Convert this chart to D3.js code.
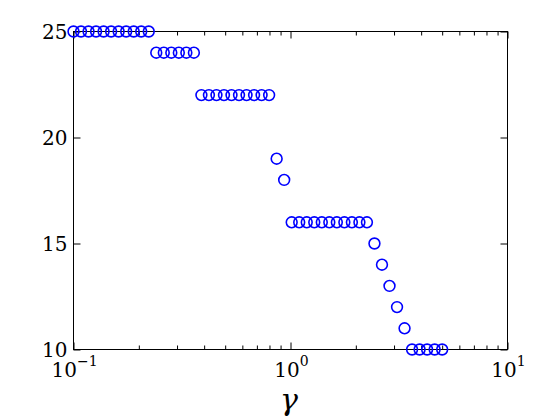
<!DOCTYPE html>
<html>
<head>
<meta charset="utf-8">
<script src="https://cdn.jsdelivr.net/npm/d3@7"></script>
<style>
  html, body { margin: 0; padding: 0; background: #fff; }
  svg { display: block; }
</style>
</head>
<body>
<svg id="chart" width="560" height="420"></svg>
<script>
// gamma values (log-spaced)
const gammaValues = [
  0.1, 0.10831, 0.11731, 0.12706, 0.13762, 0.14906, 0.16145, 0.17487, 0.18940, 0.20514,
  0.22219, 0.24066, 0.26066, 0.28232, 0.30578, 0.33120, 0.35872, 0.38854, 0.42083, 0.45580,
  0.49368, 0.53471, 0.57915, 0.62729, 0.67942, 0.73589, 0.79705, 0.86329, 0.93503, 1.0127,
  1.0969, 1.1881, 1.2868, 1.3938, 1.5096, 1.6351, 1.7709, 1.9181, 2.0775, 2.2502,
  2.4372, 2.6398, 2.8592, 3.0968, 3.3542, 3.6329, 3.9348, 4.2619, 4.6161, 5.0
];
const countValues = [
  25, 25, 25, 25, 25, 25, 25, 25, 25, 25,
  25, 24, 24, 24, 24, 24, 24, 22, 22, 22,
  22, 22, 22, 22, 22, 22, 22, 19, 18, 16,
  16, 16, 16, 16, 16, 16, 16, 16, 16, 16,
  15, 14, 13, 12, 11, 10, 10, 10, 10, 10
];
const xMajorTicks = [0.1, 1, 10];
const xMajorExponents = ["\u22121", "0", "1"];
const xMinorTicks = [0.2,0.3,0.4,0.5,0.6,0.7,0.8,0.9,2,3,4,5,6,7,8,9];
const yTicks = [10, 15, 20, 25];
const yTickLabels = ["10", "15", "20", "25"];
const xLabel = "\u03B3";

const FONT = "DejaVu Serif";

const svg = d3.select("#chart");
const L = 73.5, R = 507.5, T = 31.5, B = 349.5;
const x = d3.scaleLog().domain([0.1, 10]).range([L, R]);
const y = d3.scaleLinear().domain([10, 25]).range([B, T]);

const majorLen = 7, minorLen = 4;

function styleAxis(g) {
  g.select(".domain").remove();
  g.selectAll("line").attr("stroke", "#000").attr("stroke-width", 1);
  g.selectAll("text").remove();
}

// bottom ticks (inward)
svg.append("g").attr("transform", `translate(0,${B})`)
  .call(d3.axisBottom(x).tickValues(xMajorTicks).tickSize(-majorLen).tickSizeOuter(0)).call(styleAxis);
svg.append("g").attr("transform", `translate(0,${B})`)
  .call(d3.axisBottom(x).tickValues(xMinorTicks).tickSize(-minorLen).tickSizeOuter(0)).call(styleAxis);
// top ticks
svg.append("g").attr("transform", `translate(0,${T})`)
  .call(d3.axisTop(x).tickValues(xMajorTicks).tickSize(-majorLen).tickSizeOuter(0)).call(styleAxis);
svg.append("g").attr("transform", `translate(0,${T})`)
  .call(d3.axisTop(x).tickValues(xMinorTicks).tickSize(-minorLen).tickSizeOuter(0)).call(styleAxis);
// left ticks
svg.append("g").attr("transform", `translate(${L},0)`)
  .call(d3.axisLeft(y).tickValues(yTicks).tickSize(-majorLen).tickSizeOuter(0)).call(styleAxis);
// right ticks
svg.append("g").attr("transform", `translate(${R},0)`)
  .call(d3.axisRight(y).tickValues(yTicks).tickSize(-majorLen).tickSizeOuter(0)).call(styleAxis);

// frame
svg.append("rect").attr("x", L).attr("y", T).attr("width", R - L).attr("height", B - T)
  .attr("fill", "none").attr("stroke", "#000").attr("stroke-width", 1);

// x tick labels 10^n
xMajorTicks.forEach((v, i) => {
  const t = svg.append("text").attr("x", x(v) + 1).attr("y", 377)
    .attr("text-anchor", "middle")
    .attr("font-family", FONT).style("font-family", FONT)
    .style("font-size", "20px").attr("fill", "#000");
  t.append("tspan").text("10");
  t.append("tspan").attr("dy", -11).style("font-size", "14px").text(xMajorExponents[i]);
});

// y tick labels
yTicks.forEach((v, i) => {
  svg.append("text").attr("x", L - 6).attr("y", y(v)).attr("dy", "0.36em")
    .attr("text-anchor", "end")
    .attr("font-family", FONT).style("font-family", FONT)
    .style("font-size", "20px").attr("fill", "#000").text(yTickLabels[i]);
});

// x axis label
svg.append("text").attr("x", 289).attr("y", 410)
  .attr("text-anchor", "middle")
  .attr("font-family", FONT).style("font-family", FONT)
  .style("font-size", "30px").style("font-style", "italic").attr("fill", "#000")
  .text(xLabel);

// markers
svg.append("g").selectAll("circle").data(gammaValues).join("circle")
  .attr("cx", d => x(d))
  .attr("cy", (d, i) => y(countValues[i]))
  .attr("r", 5.4)
  .attr("fill", "none")
  .attr("stroke", "#0000ff")
  .attr("stroke-width", 1.6);
</script>
</body>
</html>
